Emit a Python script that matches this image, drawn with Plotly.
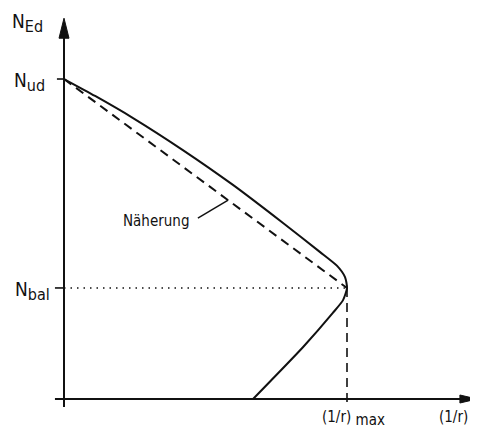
import plotly.graph_objects as go

# ---- data (normalised: N / N_ud ; (1/r) / (1/r)_max) ----
N_ud = 1.0
N_bal = 0.347
curv_max = 1.0
exact_curv = [0.0, 0.11, 0.244, 0.42, 0.597, 0.774, 0.905, 0.965, 0.993, 1.0, 0.986, 0.95, 0.845, 0.668]
exact_N = [1.0, 0.947, 0.878, 0.778, 0.669, 0.55, 0.459, 0.416, 0.381, 0.347, 0.309, 0.269, 0.1625, 0.0]
approx_curv = [0.0, curv_max]
approx_N = [N_ud, N_bal]
label_curve = "Näherung"
leader_at = 0.58  # curvature where the leader meets the approximation

FONT = "Liberation Sans Narrow, DejaVu Sans Condensed, Liberation Sans, Arial"
BLACK = "#111111"

# page body has an 8px margin -> figure is 470x429 and starts at window (8, 8)
W, H = 470, 429
XR = [-0.1979, 1.4629]
YR = [-0.11875, 1.2219]

fig = go.Figure()

# exact curve
fig.add_trace(go.Scatter(x=exact_curv, y=exact_N, mode="lines",
                         line=dict(color=BLACK, width=2, shape="spline", smoothing=0.6),
                         hoverinfo="skip"))
# approximation (dashed)
fig.add_trace(go.Scatter(x=approx_curv, y=approx_N, mode="lines",
                         line=dict(color=BLACK, width=2, dash="9px,6px"), hoverinfo="skip"))
# vertical dashed at (1/r)_max
fig.add_trace(go.Scatter(x=[curv_max, curv_max], y=[N_bal, -0.025], mode="lines",
                         line=dict(color=BLACK, width=1.6, dash="9px,6px"), hoverinfo="skip"))
# dotted N_bal line
fig.add_trace(go.Scatter(x=[0, curv_max], y=[N_bal, N_bal], mode="lines",
                         line=dict(color=BLACK, width=1.6, dash="1.5px,5px"), hoverinfo="skip"))
# leader line
lead_N = N_ud + (N_bal - N_ud) * (leader_at - 0) / (curv_max - 0)
fig.add_trace(go.Scatter(x=[0.473, leader_at], y=[0.565, lead_N], mode="lines",
                         line=dict(color=BLACK, width=1.5), hoverinfo="skip"))

shapes = []
# axes
y_tip = 1.19
x_tip = 1.459
shapes.append(dict(type="line", x0=0, x1=0, y0=-0.025, y1=y_tip - 0.05,
                   line=dict(color=BLACK, width=2)))
shapes.append(dict(type="line", x0=-0.032, x1=x_tip - 0.05, y0=0, y1=0,
                   line=dict(color=BLACK, width=2)))
# arrow heads
hw = 0.0177
hl = 0.0625
shapes.append(dict(type="path",
                   path=f"M {-hw} {y_tip - hl} L 0 {y_tip} L {hw} {y_tip - hl} Z",
                   fillcolor=BLACK, line=dict(color=BLACK, width=1)))
xl = 0.06
xh = 0.0125
shapes.append(dict(type="path",
                   path=f"M {x_tip - xl} {-xh} L {x_tip} 0 L {x_tip - xl} {xh} Z",
                   fillcolor=BLACK, line=dict(color=BLACK, width=1)))
# ticks
shapes.append(dict(type="line", x0=-0.025, x1=0, y0=N_ud, y1=N_ud, line=dict(color=BLACK, width=1.6)))
shapes.append(dict(type="line", x0=-0.032, x1=0, y0=N_bal, y1=N_bal, line=dict(color=BLACK, width=1.6)))

ann = []
def add(text, x, y, xa="left", ya="middle", size=19):
    ann.append(dict(text=text, x=x, y=y, xref="x", yref="y", showarrow=False,
                    xanchor=xa, yanchor=ya, font=dict(family=FONT, size=size, color=BLACK)))

def sub(t, px):
    return f"<sub><span style='font-size:{px}px'>{t}</span></sub>"

add("N" + sub("Ed", 16), -0.19, 1.175)
add("N" + sub("ud", 16), -0.06, N_ud - 0.01, xa="right")
add("N" + sub("bal", 16), -0.042, N_bal - 0.01, xa="right")
add(label_curve, 0.325, 0.555, xa="center", size=15)
add("(1/r) " + sub("max", 15), 0.905, -0.062, size=15)
add("(1/r)", 1.318, -0.055, size=15)

fig.update_layout(width=W, height=H, margin=dict(l=0, r=0, t=0, b=0),
                  plot_bgcolor="white", paper_bgcolor="white", showlegend=False,
                  shapes=shapes, annotations=ann,
                  xaxis=dict(range=XR, visible=False, fixedrange=True),
                  yaxis=dict(range=YR, visible=False, fixedrange=True))
fig.write_html("out.html")
